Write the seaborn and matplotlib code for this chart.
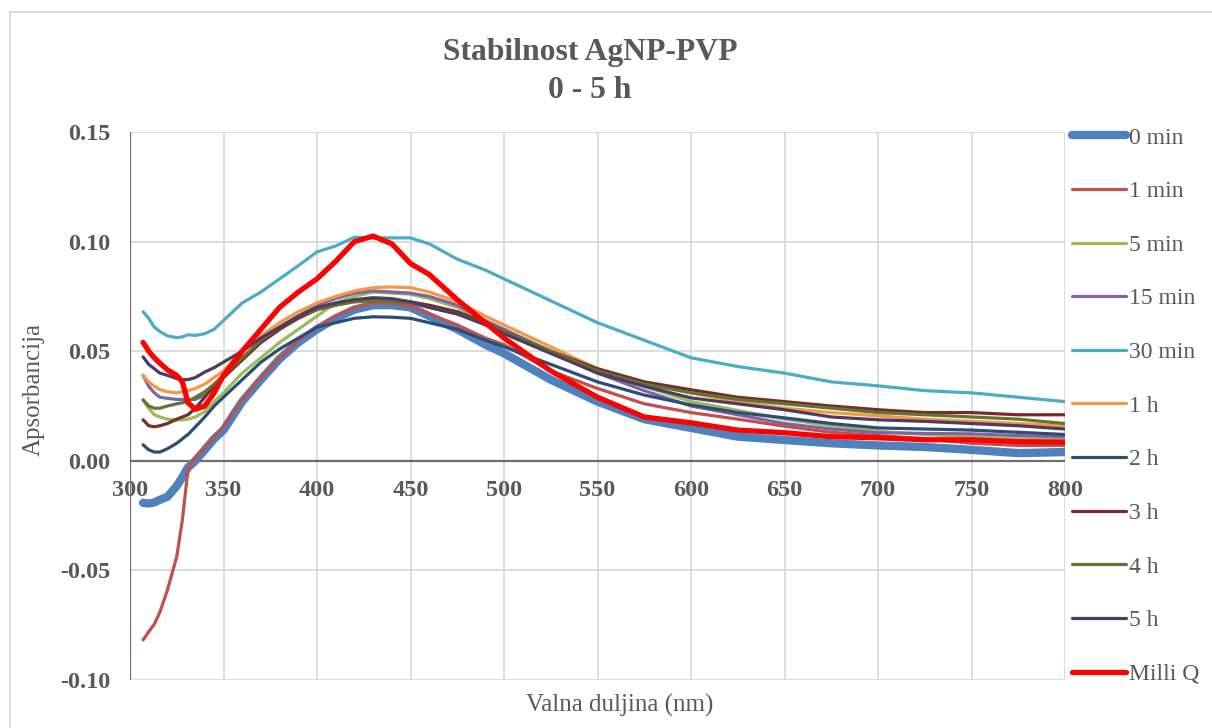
import matplotlib
matplotlib.use("Agg")
import matplotlib.pyplot as plt
import seaborn as sns
import pandas as pd
from matplotlib.patches import Rectangle
from matplotlib.lines import Line2D
from matplotlib.transforms import blended_transform_factory, offset_copy

# Wavelengths (nm) at which the spectra are tabulated
wavelength = [307, 310, 313, 316, 320, 325, 328, 331, 335, 340, 345, 350, 360, 370,
              380, 390, 400, 410, 420, 430, 440, 450, 460, 475, 490, 500, 525, 550,
              575, 600, 625, 650, 675, 700, 725, 750, 775, 800]

# Absorbance spectra of AgNP-PVP at each time point
abs_0min = [-0.0192, -0.0195, -0.0190, -0.0178, -0.0164, -0.0115, -0.0075, -0.0030, 0.0000,
            0.0050, 0.0100, 0.0140, 0.0270, 0.0370, 0.0465, 0.0540, 0.0600, 0.0650, 0.0690,
            0.0710, 0.0710, 0.0700, 0.0660, 0.0600, 0.0530, 0.0490, 0.0370, 0.0270, 0.0190,
            0.0150, 0.0110, 0.0095, 0.0080, 0.0070, 0.0063, 0.0050, 0.0035, 0.0040]
abs_1min = [-0.0817, -0.0780, -0.0745, -0.0690, -0.0590, -0.0437, -0.0270, -0.0040, 0.0015,
            0.0060, 0.0110, 0.0155, 0.0280, 0.0380, 0.0470, 0.0550, 0.0610, 0.0660, 0.0700,
            0.0720, 0.0720, 0.0705, 0.0670, 0.0620, 0.0560, 0.0530, 0.0410, 0.0330, 0.0260,
            0.0220, 0.0190, 0.0158, 0.0130, 0.0115, 0.0100, 0.0080, 0.0070, 0.0070]
abs_5min = [0.0278, 0.0240, 0.0210, 0.0200, 0.0190, 0.0185, 0.0187, 0.0190, 0.0200,
            0.0225, 0.0270, 0.0310, 0.0400, 0.0470, 0.0540, 0.0600, 0.0660, 0.0720, 0.0750,
            0.0770, 0.0765, 0.0760, 0.0740, 0.0700, 0.0630, 0.0590, 0.0500, 0.0410, 0.0340,
            0.0270, 0.0230, 0.0190, 0.0160, 0.0135, 0.0120, 0.0110, 0.0100, 0.0100]
abs_15min = [0.0390, 0.0340, 0.0310, 0.0290, 0.0285, 0.0280, 0.0280, 0.0280, 0.0280,
             0.0300, 0.0340, 0.0380, 0.0470, 0.0540, 0.0600, 0.0660, 0.0710, 0.0740, 0.0765,
             0.0775, 0.0770, 0.0765, 0.0750, 0.0710, 0.0640, 0.0600, 0.0500, 0.0400, 0.0320,
             0.0250, 0.0210, 0.0170, 0.0145, 0.0128, 0.0125, 0.0123, 0.0115, 0.0110]
abs_30min = [0.0680, 0.0650, 0.0610, 0.0590, 0.0570, 0.0562, 0.0565, 0.0575, 0.0572,
             0.0580, 0.0600, 0.0640, 0.0720, 0.0770, 0.0830, 0.0890, 0.0953, 0.0980, 0.1020,
             0.1017, 0.1017, 0.1017, 0.0990, 0.0920, 0.0870, 0.0830, 0.0730, 0.0630, 0.0550,
             0.0470, 0.0430, 0.0400, 0.0360, 0.0342, 0.0320, 0.0310, 0.0290, 0.0270]
abs_1h = [0.0390, 0.0360, 0.0340, 0.0325, 0.0315, 0.0310, 0.0315, 0.0320, 0.0330,
          0.0350, 0.0380, 0.0410, 0.0500, 0.0570, 0.0630, 0.0680, 0.0720, 0.0750, 0.0775,
          0.0790, 0.0793, 0.0790, 0.0770, 0.0726, 0.0660, 0.0620, 0.0520, 0.0420, 0.0360,
          0.0310, 0.0270, 0.0240, 0.0220, 0.0205, 0.0190, 0.0180, 0.0170, 0.0160]
abs_2h = [0.0073, 0.0050, 0.0040, 0.0040, 0.0055, 0.0080, 0.0100, 0.0120, 0.0155,
          0.0200, 0.0250, 0.0290, 0.0370, 0.0450, 0.0510, 0.0560, 0.0610, 0.0630, 0.0650,
          0.0657, 0.0655, 0.0650, 0.0630, 0.0600, 0.0550, 0.0520, 0.0440, 0.0360, 0.0300,
          0.0255, 0.0220, 0.0196, 0.0170, 0.0150, 0.0145, 0.0140, 0.0130, 0.0120]
abs_3h = [0.0187, 0.0160, 0.0155, 0.0160, 0.0170, 0.0190, 0.0200, 0.0210, 0.0240,
          0.0290, 0.0340, 0.0380, 0.0460, 0.0540, 0.0600, 0.0650, 0.0690, 0.0710, 0.0730,
          0.0740, 0.0735, 0.0725, 0.0710, 0.0680, 0.0630, 0.0590, 0.0500, 0.0420, 0.0360,
          0.0324, 0.0290, 0.0270, 0.0250, 0.0233, 0.0220, 0.0220, 0.0210, 0.0210]
abs_4h = [0.0278, 0.0250, 0.0240, 0.0240, 0.0250, 0.0260, 0.0265, 0.0270, 0.0290,
          0.0315, 0.0350, 0.0390, 0.0470, 0.0550, 0.0610, 0.0660, 0.0690, 0.0710, 0.0725,
          0.0730, 0.0728, 0.0720, 0.0700, 0.0670, 0.0625, 0.0590, 0.0500, 0.0410, 0.0350,
          0.0310, 0.0280, 0.0260, 0.0240, 0.0220, 0.0210, 0.0200, 0.0190, 0.0170]
abs_5h = [0.0474, 0.0440, 0.0420, 0.0400, 0.0390, 0.0375, 0.0370, 0.0370, 0.0380,
          0.0405, 0.0425, 0.0450, 0.0500, 0.0560, 0.0610, 0.0660, 0.0700, 0.0720, 0.0735,
          0.0744, 0.0740, 0.0725, 0.0700, 0.0670, 0.0620, 0.0580, 0.0490, 0.0400, 0.0340,
          0.0287, 0.0260, 0.0233, 0.0200, 0.0187, 0.0180, 0.0170, 0.0160, 0.0145]
abs_milliq = [0.0540, 0.0500, 0.0470, 0.0445, 0.0415, 0.0390, 0.0360, 0.0265, 0.0235,
              0.0250, 0.0310, 0.0390, 0.0500, 0.0600, 0.0700, 0.0770, 0.0830, 0.0910, 0.1000,
              0.1025, 0.0990, 0.0900, 0.0850, 0.0735, 0.0630, 0.0560, 0.0410, 0.0290, 0.0200,
              0.0173, 0.0140, 0.0128, 0.0110, 0.0105, 0.0096, 0.0096, 0.0087, 0.0085]

series_labels = ["0 min", "1 min", "5 min", "15 min", "30 min", "1 h", "2 h", "3 h",
                 "4 h", "5 h", "Milli Q"]
series_values = [abs_0min, abs_1min, abs_5min, abs_15min, abs_30min, abs_1h, abs_2h,
                 abs_3h, abs_4h, abs_5h, abs_milliq]
series_colors = ["#4F81BD", "#C0504D", "#9BBB59", "#8064A2", "#4BACC6", "#F79646",
                 "#2C4D75", "#772C2A", "#5F7530", "#4D3B62", "#FF0000"]
series_widths = [6.0, 2.3, 2.3, 2.3, 2.3, 2.3, 2.3, 2.3, 2.3, 2.3, 3.8]

x_ticks = [300, 350, 400, 450, 500, 550, 600, 650, 700, 750, 800]
x_tick_labels = ["300", "350", "400", "450", "500", "550", "600", "650", "700", "750", "800"]
y_ticks = [-0.10, -0.05, 0.00, 0.05, 0.10, 0.15]
y_tick_labels = ["-0.10", "-0.05", "0.00", "0.05", "0.10", "0.15"]

sns.set_theme(style="white")
plt.rcParams["font.family"] = ["Liberation Serif", "DejaVu Serif"]

TEXT = "#595959"
GRID = "#D9D9D9"
AXIS = "#6E6E6E"

W, H = 1212, 728
fig = plt.figure(figsize=(W / 100, H / 100), dpi=100)
fig.patch.set_facecolor("white")

# chart frame
fig.patches.append(Rectangle((10 / W, -0.2), 1.3, 1.2 - 12 / H, transform=fig.transFigure,
                             fill=False, edgecolor=GRID, linewidth=1.3, zorder=0))

ax = fig.add_axes([130 / W, 1 - 680 / H, (1065 - 130) / W, (680 - 132) / H])

frame = pd.DataFrame({"wavelength": wavelength})
handles = []
for label, vals, color, lw in zip(series_labels, series_values, series_colors, series_widths):
    frame[label] = vals
    sns.lineplot(data=frame, x="wavelength", y=label, ax=ax, color=color, linewidth=lw,
                 solid_capstyle="round", solid_joinstyle="round", legend=False, zorder=3)
    handles.append(Line2D([], [], color=color, linewidth=lw, solid_capstyle="round"))

ax.set_xlim(300, 800)
ax.set_ylim(-0.10, 0.15)
ax.set_xticks(x_ticks)
ax.set_yticks(y_ticks)
ax.grid(True, color=GRID, linewidth=1.3, zorder=0)
ax.set_axisbelow(True)
for s in ax.spines.values():
    s.set_visible(False)
ax.axhline(0, color=AXIS, linewidth=1.6, zorder=2)
ax.axvline(300, color=AXIS, linewidth=1.6, zorder=2)

ax.set_yticklabels(y_tick_labels, fontweight="bold", color=TEXT, fontsize=17.5)
ax.tick_params(axis="y", length=0, pad=14)
ax.tick_params(axis="x", length=0, labelbottom=False)
ax.set_xlabel("")
ax.set_ylabel("")

# x tick labels sit just under the zero line
trans = offset_copy(blended_transform_factory(ax.transData, ax.transData), fig=fig,
                    x=0, y=-30, units="dots")
for xv, txt in zip(x_ticks, x_tick_labels):
    ax.text(xv, 0, txt, transform=trans, ha="center", va="center", fontweight="bold",
            color=TEXT, fontsize=17.5, zorder=1)

fig.text(590 / W, 1 - 71.5 / H, "Stabilnost AgNP-PVP\n0 - 5 h", ha="center", va="center",
         fontweight="bold", color=TEXT, fontsize=22.8, linespacing=1.38)
fig.text(34 / W, 1 - 390 / H, "Apsorbancija", rotation=90, ha="center", va="center",
         color=TEXT, fontsize=18)
fig.text(620 / W, 1 - 705 / H, "Valna duljina (nm)", ha="center", va="center",
         color=TEXT, fontsize=18)

fig.legend(handles, series_labels, loc="upper left", bbox_to_anchor=(1072 / W, 1 - 127 / H),
           frameon=False, fontsize=17, labelcolor=TEXT, handlelength=2.3,
           handletextpad=0.1, labelspacing=1.36, borderaxespad=0, borderpad=0)

fig.savefig("out.png", dpi=100)
